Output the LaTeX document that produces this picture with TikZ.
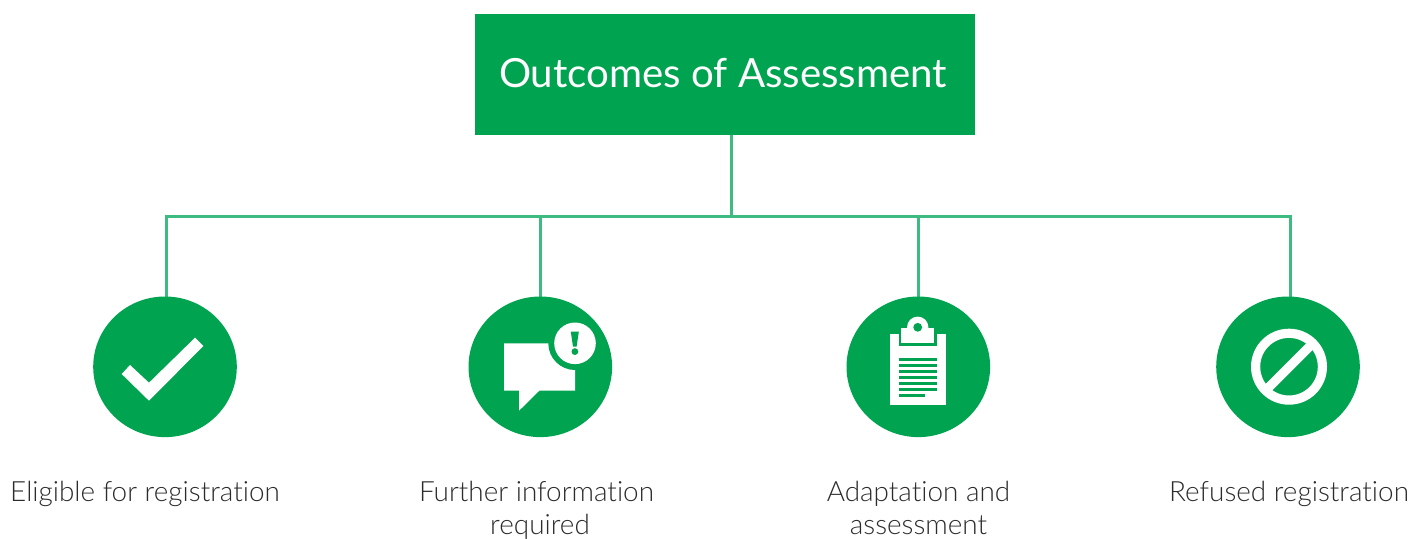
\documentclass[tikz,border=0pt]{standalone}
\usepackage{fontspec}
\usetikzlibrary{shapes.geometric}
\setmainfont{Lato Light}[BoldFont={Lato},Ligatures=CommonOff]
\newfontfamily\titlefont{Lato}[Ligatures=CommonOff]
\definecolor{gr}{HTML}{00A34F}
\definecolor{ln}{HTML}{3DBB80}
\definecolor{tx}{HTML}{2B2B2B}
\tikzset{
  icon/.style={ellipse,fill=gr,minimum width=143.6pt,minimum height=140.6pt,inner sep=0pt,draw=none},
  lbl/.style={text=tx,font=\fontsize{27.9}{33}\selectfont,align=center,inner sep=0pt,anchor=base},
  conn/.style={draw=ln,line width=3pt},
}
\begin{document}
\begin{tikzpicture}[x=1pt,y=-1pt]
\useasboundingbox (0,0) rectangle (1413,538);
\node[fill=gr,minimum width=500pt,minimum height=121pt,inner sep=0pt] (title) at (725,74.5) {};
\node[text=white,font=\titlefont\fontsize{40.2}{44}\selectfont,inner sep=0pt,anchor=base] (titletext) at (723,87) {Outcomes of Assessment};
\coordinate (top) at (731,135);
\coordinate (j) at (731,216);
\coordinate (b1) at (166,216);
\coordinate (b2) at (540.3,216);
\coordinate (b3) at (918.3,216);
\coordinate (b4) at (1290,216);
\coordinate (e1) at (166,298);
\coordinate (e2) at (540.3,298);
\coordinate (e3) at (918.3,298);
\coordinate (e4) at (1290,298);
\draw[conn] (top) -- (j);
\draw[conn,line cap=rect] (b1) -- (b4);
\draw[conn] (b1) -- (e1);
\draw[conn] (b2) -- (e2);
\draw[conn] (b3) -- (e3);
\draw[conn] (b4) -- (e4);
\node[icon] (c1) at (165,366.8) {};
\node[icon] (c2) at (540.3,366.8) {};
\node[icon] (c3) at (918.3,366.8) {};
\node[icon] (c4) at (1288,366.8) {};
% check
\fill[white] (121.7,374) -- (130,365) -- (149,382.7) -- (195,337.7) -- (203.3,346) -- (149,400.7) -- cycle;
% speech bubble
\fill[white] (504,343.3) -- (575,343.3) -- (575,390.7) -- (539.3,390.7) -- (519,410.7) -- (519,390.7) -- (504,390.7) -- cycle;
\fill[gr] (575,343.3) circle (26.7);
\fill[white] (575,343.3) circle (20.8);
\fill[gr] (570.8,331.7) -- (578.8,331.7) -- (576.6,346.7) -- (573,346.7) -- cycle;
\fill[gr] (574.9,351.6) circle (3.4);
% clipboard
\fill[white] (890,334) rectangle (946,405.3);
\fill[gr] (899,334) rectangle (936.7,346);
\fill[white] (901.3,328.3) rectangle (934,343.3);
\fill[white] (917.7,327.3) circle (10.7);
\fill[gr] (917.7,327.3) circle (4.4);
\foreach \y in {358,364,370,376,381.8,387.7}
  \fill[gr] (899,\y) rectangle (937,\y+3);
\fill[gr] (899,393.7) rectangle (925,396.7);
% prohibited
\draw[white,line width=9.2pt] (1289,366.7) circle (33.4);
\draw[white,line width=9.2pt] (1266,390) -- (1312,344);
% labels
\node[lbl] (l1) at (145,501.5) {Eligible for registration};
\node[lbl] (l2) at (536.5,534.5) {Further information\\\hspace*{7pt}required};
\node[lbl] (l3) at (918.5,534.5) {Adaptation and\\assessment};
\node[lbl] (l4) at (1289,501.5) {Refused registration};
\end{tikzpicture}
\end{document}
